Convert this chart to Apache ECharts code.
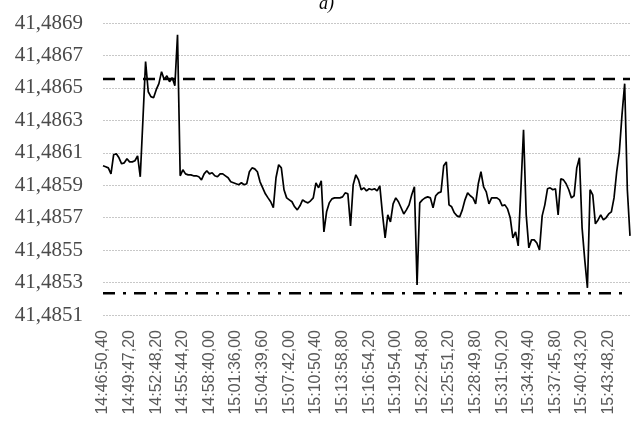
<!DOCTYPE html>
<html>
<head>
<meta charset="utf-8">
<script src="https://cdn.jsdelivr.net/npm/echarts@6/dist/echarts.min.js"></script>
<style>
html,body{margin:0;padding:0;background:#fff;}
#chart{width:631px;height:439px;}
</style>
</head>
<body>
<div id="chart"></div>
<script>
// Tick labels shown every 10 samples along the x axis
var tickLabels = ["14:46:50,40","14:49:47,20","14:52:48,20","14:55:44,20","14:58:40,00","15:01:36,00","15:04:39,60","15:07:42,00","15:10:50,40","15:13:58,80","15:16:54,20","15:19:54,00","15:22:54,80","15:25:51,20","15:28:49,80","15:31:50,20","15:34:49,40","15:37:45,80","15:40:43,20","15:43:48,20"];
var labelStep = 10;

var values = [
41.486020,41.486014,41.486007,41.485970,41.486088,41.486094,41.486069,41.486032,41.486038,41.486063,
41.486044,41.486044,41.486051,41.486081,41.485952,41.486304,41.486662,41.486476,41.486446,41.486439,
41.486489,41.486526,41.486600,41.486551,41.486575,41.486538,41.486563,41.486514,41.486828,41.485958,
41.485995,41.485970,41.485964,41.485964,41.485958,41.485958,41.485952,41.485933,41.485970,41.485989,
41.485970,41.485977,41.485958,41.485952,41.485970,41.485970,41.485958,41.485946,41.485921,41.485915,
41.485909,41.485903,41.485915,41.485903,41.485909,41.485983,41.486007,41.486001,41.485983,41.485921,
41.485884,41.485847,41.485822,41.485798,41.485761,41.485946,41.486026,41.486007,41.485872,41.485822,
41.485810,41.485798,41.485767,41.485748,41.485773,41.485810,41.485798,41.485791,41.485804,41.485822,
41.485915,41.485884,41.485927,41.485612,41.485736,41.485791,41.485816,41.485822,41.485822,41.485822,
41.485828,41.485853,41.485847,41.485649,41.485903,41.485964,41.485933,41.485872,41.485884,41.485865,
41.485878,41.485872,41.485878,41.485865,41.485896,41.485723,41.485575,41.485717,41.485674,41.485785,
41.485822,41.485798,41.485761,41.485723,41.485748,41.485779,41.485841,41.485890,41.485285,41.485791,
41.485810,41.485822,41.485828,41.485822,41.485761,41.485835,41.485853,41.485859,41.486020,41.486044,
41.485779,41.485767,41.485730,41.485711,41.485705,41.485748,41.485810,41.485853,41.485835,41.485822,
41.485785,41.485909,41.485983,41.485890,41.485859,41.485785,41.485822,41.485822,41.485822,41.485810,
41.485773,41.485779,41.485754,41.485699,41.485575,41.485612,41.485526,41.485872,41.486242,41.485717,
41.485514,41.485563,41.485563,41.485544,41.485501,41.485711,41.485779,41.485878,41.485884,41.485872,
41.485878,41.485717,41.485940,41.485933,41.485909,41.485872,41.485822,41.485835,41.486007,41.486069,
41.485637,41.485440,41.485267,41.485872,41.485841,41.485662,41.485686,41.485717,41.485686,41.485699,
41.485723,41.485736,41.485822,41.485983,41.486106,41.486335,41.486526,41.485872,41.485588
];

// Reference limit lines
var upperLimit = 41.486555;
var lowerLimit = 41.485234;

// Y axis range
var yMin = 41.4851, yMax = 41.4869, yStep = 0.0002;

var categories = values.map(function(v, i){ return String(i); });
var lastIdx = values.length - 1;

var chart = echarts.init(document.getElementById('chart'), null, {renderer:'canvas'});
chart.setOption({
  animation: false,
  backgroundColor: '#ffffff',
  title: {
    text: 'a)',
    left: 314,
    top: -10,
    textStyle: {fontFamily: 'Liberation Serif', fontStyle: 'italic', fontWeight: 'normal', fontSize: 18, color: '#000'}
  },
  grid: {left: 103, right: 1, top: 23, bottom: 124, containLabel: false},
  xAxis: {
    type: 'category',
    data: categories,
    boundaryGap: false,
    axisLine: {show: false},
    axisTick: {show: false},
    splitLine: {show: false},
    axisLabel: {
      interval: labelStep - 1,
      rotate: 90,
      margin: 15,
      fontFamily: 'Liberation Sans',
      fontSize: 16,
      color: '#595959',
      formatter: function(val, idx){
        var i = Number(val);
        return (i % labelStep === 0 && tickLabels[i / labelStep]) ? tickLabels[i / labelStep] : '';
      }
    }
  },
  yAxis: {
    type: 'value',
    min: yMin,
    max: yMax,
    interval: yStep,
    axisLine: {show: false},
    axisTick: {show: false},
    axisLabel: {
      margin: 20,
      fontFamily: 'Liberation Serif',
      fontSize: 21,
      color: '#4a4a4a',
      formatter: function(v){ return v.toFixed(4).replace('.', ','); }
    },
    splitLine: {show: true, lineStyle: {color: '#c8c8c8', width: 1, type: [2, 1]}}
  },
  series: [{
    type: 'line',
    data: values,
    showSymbol: false,
    symbol: 'none',
    lineStyle: {color: '#000', width: 1.7},
    z: 3
  }, {
    type: 'line',
    data: [[categories[0], upperLimit], [categories[lastIdx], upperLimit]],
    showSymbol: false,
    symbol: 'none',
    silent: true,
    lineStyle: {color: '#000', width: 2.6, type: [12, 8]},
    z: 2
  }, {
    type: 'line',
    data: [[categories[0], lowerLimit], [categories[lastIdx], lowerLimit]],
    showSymbol: false,
    symbol: 'none',
    silent: true,
    lineStyle: {color: '#000', width: 2.6, type: [12, 8, 3, 8]},
    z: 2
  }]
});
</script>
</body>
</html>
